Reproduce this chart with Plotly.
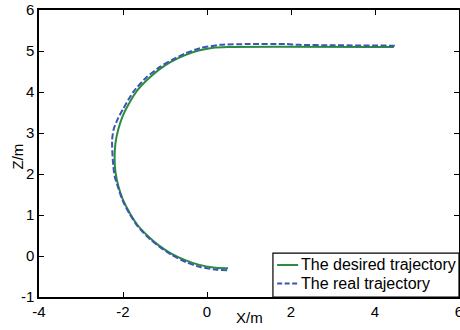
import plotly.graph_objects as go

# Desired trajectory
desired_x = [0.50, 0.15, -0.20, -0.52, -0.85, -1.15, -1.41, -1.65, -1.84, -2.00, -2.11, -2.18,
             -2.20, -2.18, -2.11, -2.00, -1.84, -1.65, -1.41, -1.15, -0.85, -0.52, -0.20, 0.15,
             0.50, 4.45]
desired_z = [-0.30, -0.28, -0.21, -0.10, 0.06, 0.26, 0.49, 0.75, 1.05, 1.37, 1.70, 2.05,
             2.40, 2.75, 3.10, 3.43, 3.75, 4.05, 4.31, 4.54, 4.74, 4.90, 5.01, 5.08,
             5.10, 5.10]

# Real trajectory
real_x = [0.48, 0.20, -0.16, -0.50, -0.85, -1.15, -1.41, -1.65, -1.84, -2.00, -2.10, -2.20,
          -2.24, -2.26, -2.22, -2.12, -1.99, -1.75, -1.45, -1.11, -0.80, -0.50, -0.16, 0.32,
          1.00, 1.86, 2.20, 3.00, 4.47]
real_z = [-0.35, -0.33, -0.27, -0.15, 0.03, 0.24, 0.46, 0.72, 1.02, 1.33, 1.62, 1.95,
          2.30, 2.83, 3.10, 3.35, 3.60, 4.01, 4.35, 4.62, 4.80, 4.95, 5.07, 5.15,
          5.17, 5.17, 5.15, 5.14, 5.13]

series_names = ["The desired trajectory", "The real trajectory"]
series_colors = ["#2a8c3c", "#3c54b4"]

x_ticks = [-4, -2, 0, 2, 4, 6]
z_ticks = [-1, 0, 1, 2, 3, 4, 5, 6]

FONT = "Liberation Sans, Arial, sans-serif"

fig = go.Figure()
fig.add_trace(go.Scatter(x=desired_x, y=desired_z, mode="lines", name=series_names[0],
                         showlegend=False,
                         line=dict(color=series_colors[0], width=2, shape="spline", smoothing=0.6)))
fig.add_trace(go.Scatter(x=real_x, y=real_z, mode="lines", name=series_names[1],
                         showlegend=False,
                         line=dict(color=series_colors[1], width=2, dash="6px,2.5px",
                                   shape="spline", smoothing=0.6)))

axis_common = dict(showgrid=False, zeroline=False, showline=True, linecolor="black", linewidth=1.5,
                   mirror="ticks", ticks="inside", ticklen=5, tickcolor="black", tickwidth=1.2,
                   automargin=False, ticklabeloverflow="allow",
                   tickfont=dict(family=FONT, size=15, color="black"))

fig.update_xaxes(range=[-4, 6], tickvals=x_ticks, ticktext=[str(t) for t in x_ticks], **axis_common)
fig.update_yaxes(range=[-1, 6], tickvals=z_ticks, ticktext=[str(t) for t in z_ticks], **axis_common)

# Axis titles
fig.add_annotation(text="X/m", xref="paper", yref="paper", x=0.5, y=-0.071,
                   xanchor="center", yanchor="middle", showarrow=False,
                   font=dict(family=FONT, size=15, color="black"))
fig.add_annotation(text="Z/m", xref="paper", yref="paper", x=-0.052, y=0.49,
                   xanchor="center", yanchor="middle", showarrow=False, textangle=-90,
                   font=dict(family=FONT, size=15, color="black"))

# Legend box (drawn)
fig.add_shape(type="rect", xref="paper", yref="paper", x0=0.557, x1=1.0, y0=0.0, y1=0.153,
              line=dict(color="black", width=1.2), fillcolor="white", layer="above")
legend_rows = [0.1115, 0.047]
legend_dash = ["solid", "5px,2.5px"]
for name, color, yy, dsh in zip(series_names, series_colors, legend_rows, legend_dash):
    fig.add_shape(type="line", xref="paper", yref="paper", x0=0.567, x1=0.617, y0=yy, y1=yy,
                  line=dict(color=color, width=2, dash=dsh), layer="above")
    fig.add_annotation(text=name, xref="paper", yref="paper", x=0.619, y=yy,
                       xanchor="left", yanchor="middle", showarrow=False,
                       font=dict(family=FONT, size=16, color="black"))

fig.update_layout(width=460, height=330, margin=dict(l=39, r=1, t=10, b=33),
                  paper_bgcolor="white", plot_bgcolor="white", showlegend=False)

# remove the page's default 8px body margin so the figure fills the window exactly
fig.write_html("out.html", config={"displayModeBar": False},
               post_script="document.body.style.margin='0px';document.body.style.overflow='hidden';")
